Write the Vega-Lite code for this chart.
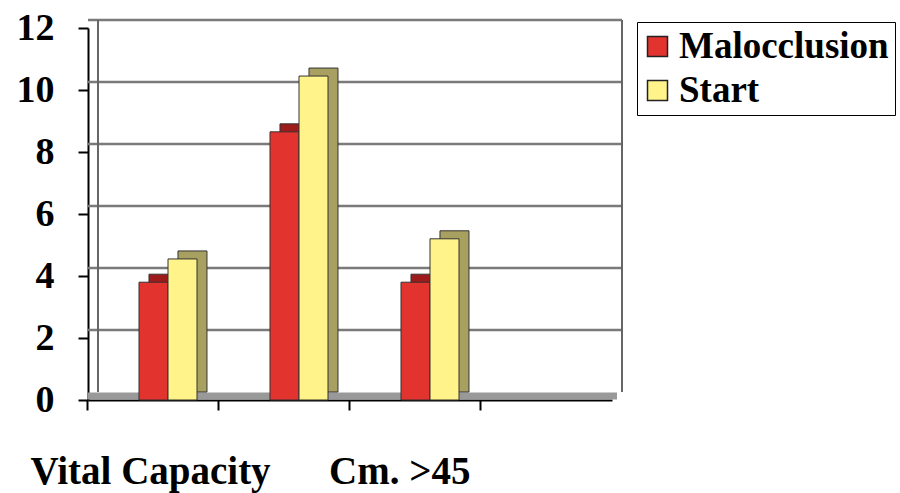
{
  "$schema": "https://vega.github.io/schema/vega-lite/v6.json",
  "width": 524,
  "height": 372,
  "autosize": {"type": "none"},
  "padding": {"left": 88, "top": 28, "right": 288, "bottom": 93},
  "background": "white",
  "config": {
    "view": {"stroke": null},
    "font": "Liberation Serif",
    "axisY": {
      "grid": false,
      "domainColor": "black",
      "domainWidth": 2,
      "tickColor": "black",
      "tickWidth": 2,
      "tickSize": 10,
      "tickCount": 6,
      "labelFont": "Liberation Serif",
      "labelFontWeight": "bold",
      "labelFontSize": 38,
      "labelColor": "black",
      "labelPadding": 24
    },
    "axisX": {
      "grid": false,
      "labels": false,
      "domainColor": "black",
      "domainWidth": 2,
      "tickColor": "black",
      "tickWidth": 2,
      "tickSize": 10,
      "bandPosition": -0.0647,
      "titleFont": "Liberation Serif",
      "titleFontWeight": "bold",
      "titleFontSize": 39,
      "titleColor": "black",
      "titleAnchor": "start",
      "titleAlign": "left",
      "titleX": -58,
      "titleY": 83,
      "titleBaseline": "alphabetic"
    },
    "legend": {
      "orient": "none",
      "legendX": 549,
      "legendY": -6,
      "strokeColor": "black",
      "padding": 6,
      "labelFont": "Liberation Serif",
      "labelFontWeight": "bold",
      "labelFontSize": 37,
      "labelColor": "black",
      "labelLimit": 400,
      "symbolType": "square",
      "symbolSize": 400,
      "symbolStrokeColor": "#222",
      "symbolStrokeWidth": 1.5,
      "rowPadding": 6,
      "labelOffset": 3,
      "symbolOffset": -4
    }
  },
  "datasets": {
    "bars": [
      {"group": "G1", "series": "Malocclusion", "value": 3.8},
      {"group": "G1", "series": "Start", "value": 4.55},
      {"group": "G2", "series": "Malocclusion", "value": 8.65},
      {"group": "G2", "series": "Start", "value": 10.45},
      {"group": "G3", "series": "Malocclusion", "value": 3.8},
      {"group": "G3", "series": "Start", "value": 5.2}
    ],
    "grid": [{"v": 2}, {"v": 4}, {"v": 6}, {"v": 8}, {"v": 10}, {"v": 12}],
    "floor": [{"v": 0}]
  },
  "resolve": {"scale": {"xOffset": "independent"}},
  "layer": [
    {
      "data": {"name": "grid"},
      "mark": {"type": "rule", "color": "#7a7a7a", "strokeWidth": 2.5, "xOffset": 10, "x2Offset": 10, "yOffset": -8},
      "encoding": {
        "y": {"field": "v", "type": "quantitative", "scale": {"domain": [0, 12]}, "title": null}
      }
    },
    {
      "data": {"name": "floor"},
      "mark": {"type": "rule", "color": "#999999", "strokeWidth": 7, "xOffset": 5, "x2Offset": 10, "yOffset": -4},
      "encoding": {
        "y": {"field": "v", "type": "quantitative", "title": null}
      }
    },
    {
      "data": {"name": "floor"},
      "mark": {"type": "rule", "color": "#666666", "strokeWidth": 2, "xOffset": 10, "yOffset": -8, "y2Offset": -8},
      "encoding": {
        "x": {"datum": "G1", "type": "nominal", "bandPosition": -0.0647, "title": "Vital Capacity\u00a0\u00a0\u00a0\u00a0\u00a0\u00a0Cm. >45"},
        "y": {"datum": 0, "type": "quantitative", "title": null},
        "y2": {"datum": 12}
      }
    },
    {
      "data": {"name": "floor"},
      "mark": {"type": "rule", "color": "#666666", "strokeWidth": 2, "xOffset": 10, "yOffset": -8, "y2Offset": -8},
      "encoding": {
        "x": {"datum": "G4", "type": "nominal", "bandPosition": 1.0647, "title": "Vital Capacity\u00a0\u00a0\u00a0\u00a0\u00a0\u00a0Cm. >45"},
        "y": {"datum": 0, "type": "quantitative", "title": null},
        "y2": {"datum": 12}
      }
    },
    {
      "data": {"name": "bars"},
      "mark": {"type": "bar", "stroke": "#333", "strokeWidth": 1, "yOffset": -8, "y2Offset": -8},
      "encoding": {
        "x": {"field": "group", "type": "nominal", "scale": {"domain": ["G1", "G2", "G3", "G4"], "paddingInner": 0.1145, "paddingOuter": 0.05725}, "title": "Vital Capacity\u00a0\u00a0\u00a0\u00a0\u00a0\u00a0Cm. >45"},
        "xOffset": {"field": "series", "type": "nominal", "scale": {"domain": ["Malocclusion", "Start"], "paddingInner": 0, "paddingOuter": 1, "align": 0.922}},
        "y": {"field": "value", "type": "quantitative", "title": null},
        "color": {"condition": {"test": "datum.series === 'Malocclusion'", "value": "#9E1B1B"}, "value": "#A8A060"}
      }
    },
    {
      "data": {"name": "bars"},
      "mark": {"type": "bar", "stroke": "#333", "strokeWidth": 1},
      "encoding": {
        "x": {"field": "group", "type": "nominal", "scale": {"domain": ["G1", "G2", "G3", "G4"], "paddingInner": 0.1145, "paddingOuter": 0.05725}, "title": "Vital Capacity\u00a0\u00a0\u00a0\u00a0\u00a0\u00a0Cm. >45"},
        "xOffset": {"field": "series", "type": "nominal", "scale": {"domain": ["Malocclusion", "Start"], "paddingInner": 0, "paddingOuter": 1, "align": 0.75}},
        "y": {"field": "value", "type": "quantitative", "title": null},
        "color": {"field": "series", "type": "nominal", "scale": {"domain": ["Malocclusion", "Start"], "range": ["#E2332F", "#FFF38A"]}, "legend": {"title": null}}
      }
    }
  ]
}
